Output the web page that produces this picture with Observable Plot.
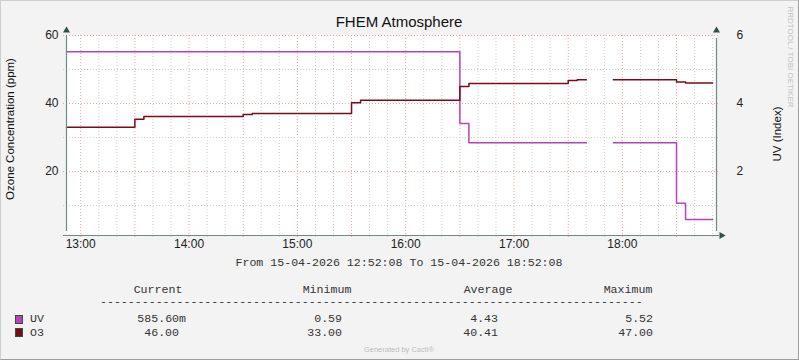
<!DOCTYPE html>
<html><head><meta charset="utf-8">
<script src="https://cdn.jsdelivr.net/npm/d3@7"></script>
<script src="https://cdn.jsdelivr.net/npm/@observablehq/plot@0.6"></script>
<style>
html,body{margin:0;padding:0;background:#fff;}
#chart{position:relative;width:799px;height:360px;background:#F3F3F3;overflow:hidden;font-family:"Liberation Sans",Arial,sans-serif;}
#chart svg{position:absolute;left:0;top:0;}
.t{position:absolute;white-space:pre;line-height:1;}
.mono{font-family:"Liberation Mono",monospace;font-size:11.6px;color:#333;}
.frameborder{position:absolute;left:0;top:0;width:799px;height:360px;box-sizing:border-box;border:1px solid #cfcfcf;border-right-color:#9c9c9c;border-bottom-color:#9c9c9c;pointer-events:none;}
</style></head><body><div id="chart"></div>
<script>
// ---- data ----
const day = "2026-04-15";
const startTime = "12:52:08";
const endTime = "18:52:08";
const title = "FHEM Atmosphere";
const leftLabel = "Ozone Concentration (ppm)";
const rightLabel = "UV (Index)";
const seriesNames = ["UV", "O3"];
const statHeaders = ["Current", "Minimum", "Average", "Maximum"];
const uvStats = ["585.60m", "0.59", "4.43", "5.52"];
const o3Stats = ["46.00", "33.00", "40.41", "47.00"];
// value i holds from times[i] to times[i+1]; null = no data
const o3Times = ["12:52:08","13:30","13:35","14:30","14:35","15:30","15:35","16:30","16:35","17:30","17:35","17:40","17:55","18:30","18:35","18:50"];
const o3Values = [33.0, 35.4, 36.2, 36.8, 37.1, 40.2, 41.0, 45.0, 45.9, 46.8, 47.0, null, 47.0, 46.3, 46.0];
const uvTimes = ["12:52:08","16:30","16:35","17:40","17:55","18:30","18:35","18:50"];
const uvValues = [5.52, 3.41, 2.85, null, 2.85, 1.07, 0.59];
const leftTicks = [20, 40, 60];
const leftMinorTicks = [10, 30, 50];
const rightTicks = [2, 4, 6];
const yDomain = [1.2, 60];
const rangeText = "From 15-04-2026 12:52:08 To 15-04-2026 18:52:08";
const footer = "Generated by Cacti\u00AE";
const watermark = "RRDTOOL / TOBI OETIKER";

// ---- styles ----
const uvColor = "#B444B8";
const o3Color = "#7E0A16";
const axisColor = "#6E8A84";
const arrowColor = "#2F4F48";
const majorGrid = "#EFA3A3";
const minorGrid = "#CFCFCF";

const parse = t => new Date(`${day}T${t.length === 5 ? t + ":00" : t}Z`);
const factor = leftTicks[leftTicks.length - 1] / rightTicks[rightTicks.length - 1];
function stepPoints(times, values, k) {
  const pts = [];
  values.forEach((v, i) => {
    if (v == null) { pts.push({t: parse(times[i]), v: NaN}); return; }
    pts.push({t: parse(times[i]), v: v * k});
    pts.push({t: parse(times[i + 1]), v: v * k});
  });
  return pts;
}
const o3Pts = stepPoints(o3Times, o3Values, 1);
const uvPts = stepPoints(uvTimes, uvValues, factor);
const x0 = parse(startTime), x1 = parse(endTime);
const tenMin = d3.utcMinute.every(10).range(x0, x1);
const majorX = tenMin.filter(d => d.getUTCMinutes() % 30 === 0);
const minorX = tenMin.filter(d => d.getUTCMinutes() % 30 !== 0);
const hourTicks = d3.utcHour.every(1).range(x0, x1);

const plot = Plot.plot({
  width: 799, height: 360,
  marginLeft: 66, marginRight: 83, marginTop: 35, marginBottom: 125,
  x: {type: "utc", domain: [x0, x1]},
  y: {domain: yDomain},
  style: {background: "transparent", fontFamily: "'Liberation Sans', Arial, sans-serif", fontSize: "11px", color: "#222"},
  marks: [
    Plot.frame({fill: "white", stroke: null}),
    Plot.gridX(minorX, {stroke: minorGrid, strokeOpacity: 1, strokeDasharray: "1,2", insetBottom: -3}),
    Plot.gridX(majorX, {stroke: majorGrid, strokeOpacity: 1, strokeDasharray: "1,2", insetBottom: -3}),
    Plot.gridY(leftMinorTicks, {stroke: minorGrid, strokeOpacity: 1, strokeDasharray: "1,2", insetLeft: -3, insetRight: -3}),
    Plot.gridY(leftTicks, {stroke: majorGrid, strokeOpacity: 1, strokeDasharray: "1,2", insetLeft: -3, insetRight: -3}),
    Plot.line(uvPts, {x: "t", y: "v", stroke: uvColor, strokeWidth: 1.5}),
    Plot.line(o3Pts, {x: "t", y: "v", stroke: o3Color, strokeWidth: 1.5}),
    Plot.ruleX([x0], {y1: yDomain[0], y2: yDomain[1], insetTop: -4, stroke: axisColor, strokeWidth: 1.2}),
    Plot.ruleX([x1], {y1: yDomain[0], y2: yDomain[1], insetTop: -4, insetBottom: -3, stroke: axisColor, strokeWidth: 1.2}),
    Plot.ruleY([yDomain[0]], {x1: x0, x2: x1, insetLeft: -3, insetRight: -3, stroke: axisColor, strokeWidth: 1.2}),
    Plot.dot([[x0, yDomain[1]], [x1, yDomain[1]]], {x: d => d[0], y: d => d[1], symbol: "triangle", r: 2.6, fill: arrowColor, stroke: null, dy: -5}),
    Plot.dot([[x1, yDomain[0]]], {x: d => d[0], y: d => d[1], symbol: "triangle", r: 2.6, fill: arrowColor, stroke: null, rotate: 90, dx: 5}),
    Plot.axisY(leftTicks, {anchor: "left", tickSize: 0, tickPadding: 8, label: null, fontSize: 12}),
    Plot.axisY(leftTicks, {anchor: "right", tickSize: 0, tickPadding: 20, label: null, fontSize: 12, tickFormat: d => d / factor}),
    Plot.axisX(hourTicks, {anchor: "bottom", tickSize: 0, tickPadding: 4, label: null, fontSize: 12, tickFormat: d3.utcFormat("%H:%M")})
  ]
});
const chart = document.getElementById("chart");
chart.appendChild(plot);

function addText(txt, x, y, opts = {}) {
  const el = document.createElement("div");
  el.className = "t" + (opts.mono ? " mono" : "");
  el.textContent = txt;
  el.style.left = x + "px";
  el.style.top = y + "px";
  const ax = opts.anchor === "end" ? "-100%" : opts.anchor === "start" ? "0" : "-50%";
  el.style.transform = `translate(${ax},-50%)` + (opts.rotate ? ` rotate(${opts.rotate}deg)` : "");
  if (opts.rotate) el.style.transform = `translate(-50%,-50%) rotate(${opts.rotate}deg)`;
  if (opts.size) el.style.fontSize = opts.size + "px";
  if (opts.color) el.style.color = opts.color;
  chart.appendChild(el);
  return el;
}
addText(title, 399, 21, {size: 15, color: "#111"});
addText(leftLabel, 11, 129, {size: 11.5, color: "#111", rotate: -90});
addText(rightLabel, 778, 134, {size: 11.5, color: "#111", rotate: -90});
addText(watermark, 790, 57, {size: 8, color: "#c2c2c2", rotate: 90});
addText(rangeText, 399, 263, {mono: true});
const headerX = [158, 327, 488, 628];
const valueEndX = [186, 349, 505, 660];
statHeaders.forEach((h, i) => addText(h, headerX[i], 290, {mono: true}));
addText("-".repeat(78), 100, 302, {mono: true, anchor: "start"});
const colors = [uvColor, o3Color];
[uvStats, o3Stats].forEach((row, r) => {
  const y = 319 + r * 13.5;
  const sw = document.createElement("div");
  sw.style.cssText = `position:absolute;left:15px;top:${y - 4.5}px;width:6px;height:7px;background:${colors[r]};border:1px solid #3c4a46;`;
  chart.appendChild(sw);
  addText(seriesNames[r], 30, y, {mono: true, anchor: "start"});
  row.forEach((v, i) => addText(/[0-9]$/.test(v) ? v + " " : v, valueEndX[i], y, {mono: true, anchor: "end"}));
});
addText(footer, 399, 350, {size: 7.5, color: "#bdbdbd"});
const b = document.createElement("div"); b.className = "frameborder"; chart.appendChild(b);
</script>
</body></html>
